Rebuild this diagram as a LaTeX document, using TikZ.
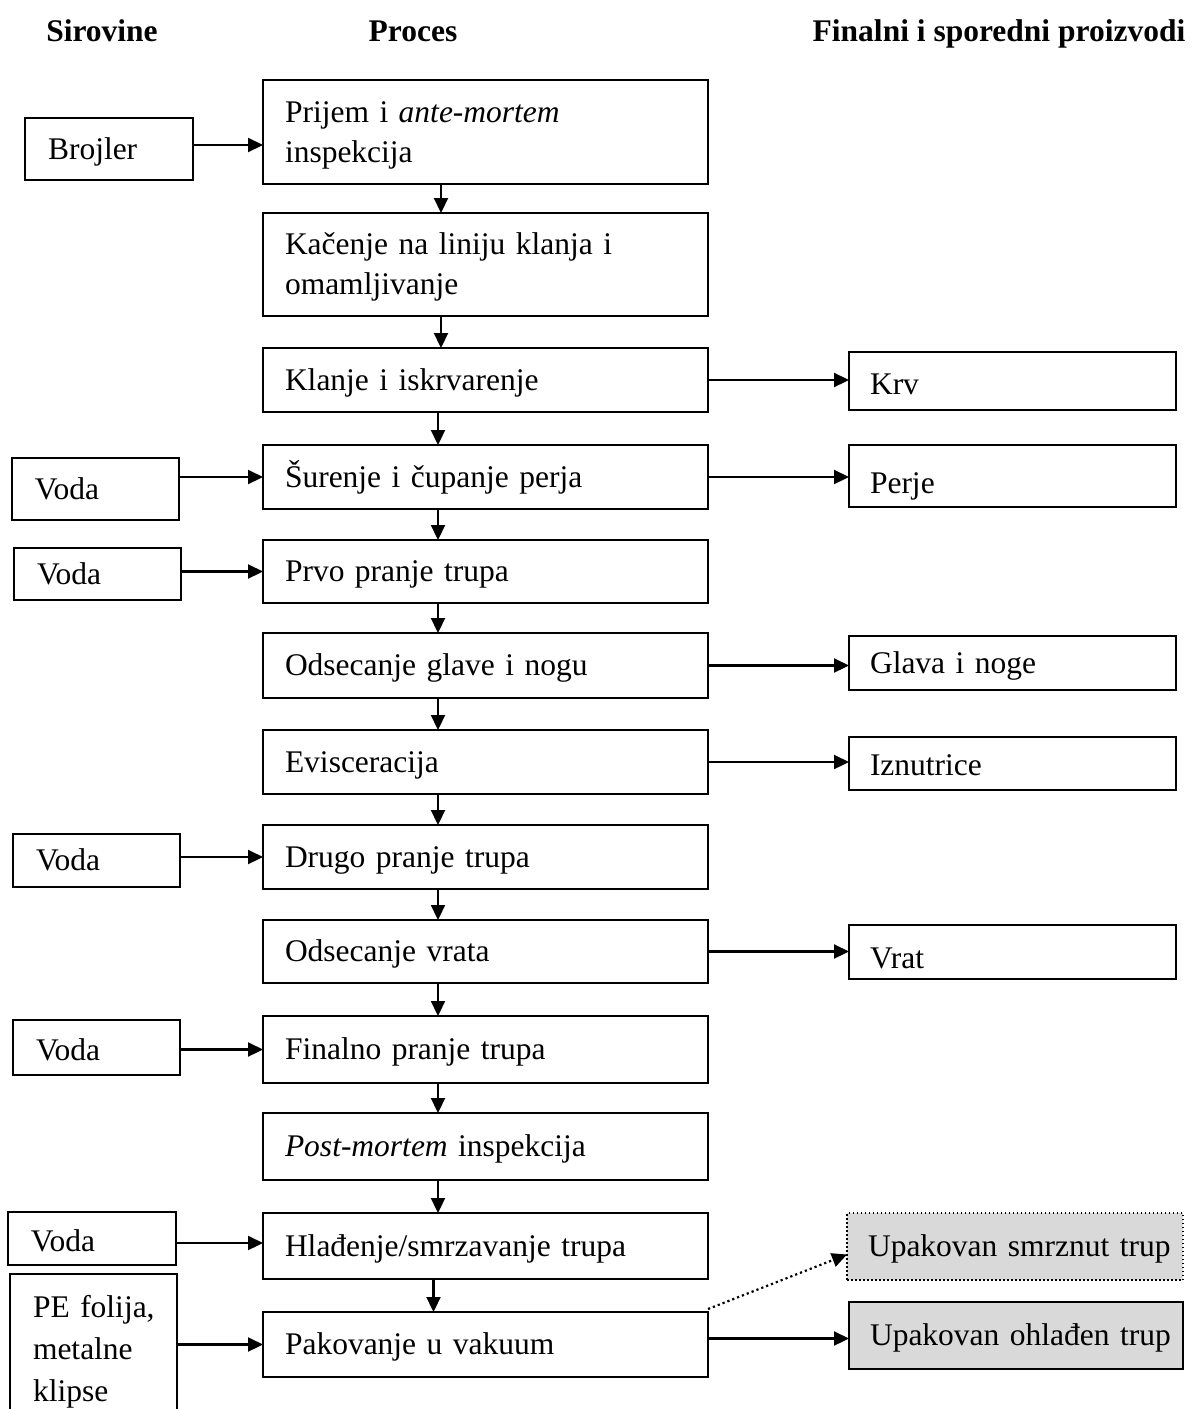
\documentclass[tikz,border=0pt]{standalone}
\usepackage{fontspec}
\setmainfont{Liberation Serif}
\usetikzlibrary{arrows.meta}
\newcommand{\fs}{\fontsize{31.5}{40}\selectfont}
\newcommand{\mystrut}{\rule[-7pt]{0pt}{34pt}}
\definecolor{boxgray}{RGB}{217,217,217}
\begin{document}
\begin{tikzpicture}[x=1pt,y=-1pt,
 bx/.style={draw, line width=2pt, rectangle, anchor=north west, align=left, outer sep=0pt, font=\fs, inner xsep=0pt,
   execute at begin node={\mystrut}, execute at end node={\mystrut}},
 pbox/.style={bx, minimum width=445pt, text width=445pt, execute at begin node={\leftskip=22pt\relax}},
 lbox/.style={bx, minimum width=#1, text width=#1, execute at begin node={\leftskip=23pt\relax}},
 lbox/.default=167pt,
 rbox/.style={bx, minimum width=#1, text width=#1, execute at begin node={\leftskip=21pt\relax}},
 rbox/.default=327pt,
 lower/.style={execute at begin node={\rule{0pt}{#1}}},
 arr/.style={line width=2.2pt, -{Triangle[length=15pt,width=14pt]}},
 head/.style={font=\fs\bfseries, anchor=base},
]
\useasboundingbox (0,0) rectangle (1198,1409);
\clip (0,0) rectangle (1198,1409);

% headings
\node[head] (h1) at (102,41) {Sirovine};
\node[head] (h2) at (413,41) {Proces};
\node[head] (h3) at (999,41) {Finalni i sporedni proizvodi};

% process column
\node[pbox, minimum height=104pt] (p1) at (263,80) {Prijem i \textit{ante-mortem}\\inspekcija};
\node[pbox, minimum height=103pt] (p2) at (263,213) {Kačenje na liniju klanja i\\omamljivanje};
\node[pbox, minimum height=64pt] (p3) at (263,348) {Klanje i iskrvarenje};
\node[pbox, minimum height=64pt] (p4) at (263,445) {Šurenje i čupanje perja};
\node[pbox, minimum height=63pt] (p5) at (263,540) {Prvo pranje trupa};
\node[pbox, minimum height=65pt] (p6) at (263,633) {Odsecanje glave i nogu};
\node[pbox, minimum height=64pt] (p7) at (263,730) {Evisceracija};
\node[pbox, minimum height=64pt] (p8) at (263,825) {Drugo pranje trupa};
\node[pbox, minimum height=63pt] (p9) at (263,920) {Odsecanje vrata};
\node[pbox, minimum height=67pt] (p10) at (263,1016) {Finalno pranje trupa};
\node[pbox, minimum height=67pt] (p11) at (263,1113) {\textit{Post-mortem} inspekcija};
\node[pbox, minimum height=66pt] (p12) at (263,1213) {Hlađenje/smrzavanje trupa};
\node[pbox, minimum height=65pt] (p13) at (263,1312) {Pakovanje u vakuum};

% inputs
\node[lbox=168pt, minimum height=62pt] (brojler) at (25,118) {Brojler};
\node[lbox, minimum height=62pt] (v1) at (12,458) {Voda};
\node[lbox, minimum height=52pt] (v2) at (14,548) {Voda};
\node[lbox, minimum height=53pt] (v3) at (13,834) {Voda};
\node[lbox, minimum height=55pt, lower=32pt] (v4) at (13,1020) {Voda};
\node[lbox=168pt, minimum height=53pt, lower=33pt] (v5) at (8,1212) {Voda};
\node[lbox, inner ysep=16pt, font={\fontsize{31.5}{42}\selectfont}] (pe) at (10,1274) {PE folija,\\metalne\\klipse};

% outputs
\node[rbox, minimum height=58pt, lower=33pt] (krv) at (849,352) {Krv};
\node[rbox, minimum height=62pt, lower=42pt] (perje) at (849,445) {Perje};
\node[rbox, minimum height=54pt] (glava) at (849,636) {Glava i noge};
\node[rbox, minimum height=53pt, lower=31pt] (izn) at (849,737) {Iznutrice};
\node[rbox, minimum height=53pt, lower=40pt] (vrat) at (849,925) {Vrat};
\node[rbox=336pt, minimum height=67pt, fill=boxgray, line width=1.5pt, dash pattern=on 1.5pt off 2.5pt] (smr) at (847,1213) {Upakovan smrznut trup};
\node[rbox=334pt, minimum height=67pt, fill=boxgray] (ohl) at (849,1302) {Upakovan ohlađen trup};

% process flow
\draw[arr] ([xshift=-44.5pt]p1.south) -- ([xshift=-44.5pt]p2.north);
\draw[arr] ([xshift=-44.5pt]p2.south) -- ([xshift=-44.5pt]p3.north);
\foreach \a/\b in {p3/p4,p4/p5,p5/p6,p6/p7,p7/p8,p8/p9,p9/p10,p10/p11,p11/p12}
  \draw[arr] ([xshift=-47.5pt]\a.south) -- ([xshift=-47.5pt]\b.north);
\draw[arr] ([xshift=-52pt]p12.south) -- ([xshift=-52pt]p13.north);

% inputs to process
\draw[arr] ([yshift=4pt]brojler.east) -- ([yshift=4pt]brojler.east -| p1.west);
\draw[arr] (p4.west -| v1.east) -- (p4.west);
\draw[arr] (p5.west -| v2.east) -- (p5.west);
\draw[arr] (p8.west -| v3.east) -- (p8.west);
\draw[arr] (p10.west -| v4.east) -- (p10.west);
\draw[arr] ([yshift=3pt]p12.west -| v5.east) -- ([yshift=3pt]p12.west);
\draw[arr] (p13.west -| pe.east) -- (p13.west);

% process to outputs
\draw[arr] (p3.east) -- (p3.east -| krv.west);
\draw[arr] (p4.east) -- (p4.east -| perje.west);
\draw[arr] (p6.east) -- (p6.east -| glava.west);
\draw[arr] (p7.east) -- (p7.east -| izn.west);
\draw[arr] (p9.east) -- (p9.east -| vrat.west);
\draw[arr] ([yshift=6pt]p13.east) -- ([yshift=6pt]p13.east -| ohl.west);
\draw[arr, dash pattern=on 2.2pt off 3pt] ([yshift=3pt]p13.north east) -- ([yshift=-8pt]smr.west);
\end{tikzpicture}
\end{document}
